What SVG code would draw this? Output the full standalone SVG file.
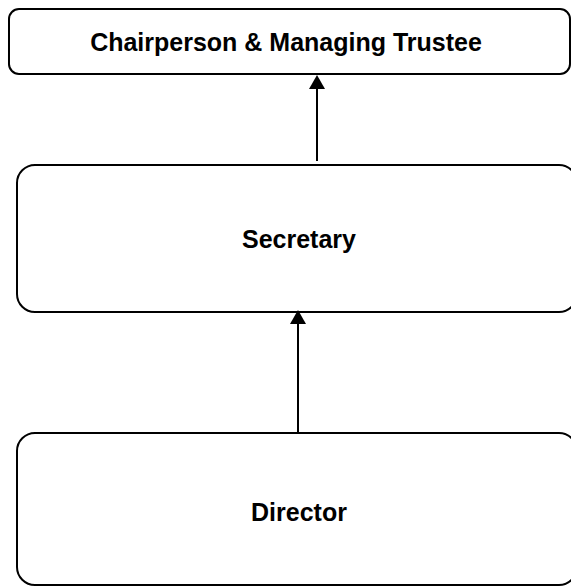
<svg xmlns="http://www.w3.org/2000/svg" width="571" height="588" viewBox="0 0 571 588">
<style>
.box{fill:#fff;stroke:#000;stroke-width:2}
.lbl{font-family:"Liberation Sans",Arial,sans-serif;font-weight:bold;font-size:25px;fill:#000;text-anchor:middle}
.conn{stroke:#000;stroke-width:2;fill:none}
</style>
<g id="chair">
<rect class="box" x="9" y="9" width="561" height="65" rx="10" ry="10"/>
<text class="lbl" x="286" y="51">Chairperson &amp; Managing Trustee</text>
</g>
<g id="secretary">
<rect class="box" x="17" y="165" width="560" height="147" rx="18" ry="18"/>
<text class="lbl" x="299" y="248">Secretary</text>
</g>
<g id="director">
<rect class="box" x="17" y="433" width="560" height="152" rx="18" ry="18"/>
<text class="lbl" x="299" y="521">Director</text>
</g>
<g id="connectors">
<line class="conn" x1="317" y1="161" x2="317" y2="88"/>
<path d="M309,89 L317,75 L325,89 Z" fill="#000"/>
<line class="conn" x1="298" y1="433" x2="298" y2="323"/>
<path d="M290,324 L298,310 L306,324 Z" fill="#000"/>
</g>
</svg>
